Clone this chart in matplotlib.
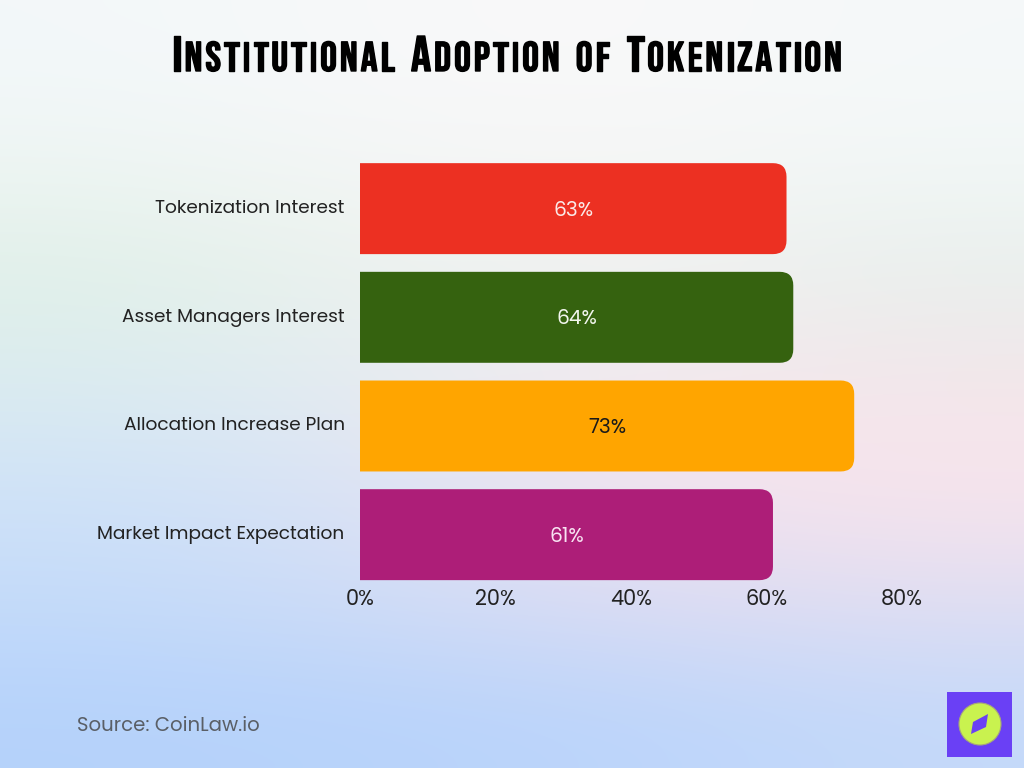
import numpy as np
import matplotlib
matplotlib.use("Agg")
import matplotlib.pyplot as plt
import matplotlib.patheffects as pe
from matplotlib.colors import to_rgb
from matplotlib.patches import PathPatch, Rectangle, Circle, Polygon
from matplotlib.path import Path
from matplotlib.transforms import ScaledTranslation

categories = ["Tokenization Interest", "Asset Managers Interest",
              "Allocation Increase Plan", "Market Impact Expectation"]
values = [63, 64, 73, 61]
bar_colors = ["#ec3022", "#35620f", "#ffa500", "#ad1e78"]
label_colors = ["#fbe9e7", "#f2f6ee", "#1a1a1a", "#f8e3f2"]
ticks = [0, 20, 40, 60, 80]
title_words = ["Institutional", "Adoption", "of", "Tokenization"]
source_text = "Source: CoinLaw.io"

FONT = "Poppins"
TITLE_FONT = "Bebas Neue"
W, H = 1024, 768

fig = plt.figure(figsize=(W / 100, H / 100), dpi=100)

# background wash, coarse colour grid blown up with smoothing
bg = fig.add_axes([0, 0, 1, 1])
wash = [
    ["#f3f8fa", "#f8f9fa", "#f9f9f9", "#f5f9fa"],
    ["#eef5f3", "#f5f6f6", "#f6f6f6", "#f2f7f6"],
    ["#e0f0e8", "#ecf2ee", "#f0f2f0", "#e8efec"],
    ["#dbecf0", "#e6ecf2", "#f5e9ee", "#f3e6ea"],
    ["#cfe2f8", "#dde3f4", "#f3e2ef", "#f8e4ec"],
    ["#c4dbfa", "#cfdcf7", "#dcdcf3", "#e0def2"],
    ["#b5d2fb", "#b8d3fb", "#bcd5fb", "#c4d9fa"],
]
rgb = np.array([[to_rgb(c) for c in row] for row in wash])
bg.imshow(rgb, extent=(0, W, H, 0), aspect="auto", interpolation="bicubic", zorder=0)
bg.set_xlim(0, W)
bg.set_ylim(H, 0)
bg.axis("off")

# title in small caps, set one letter at a time for the tracking
renderer = fig.canvas.get_renderer()
BIG, SMALL = 36, 30
TRACK = 3.05
SPACE = 13
x = 172
for n, word in enumerate(title_words):
    for k, ch in enumerate(word):
        size = BIG if k == 0 and word != "of" else SMALL
        t = bg.text(x, 71, ch.upper(), fontsize=size, family=TITLE_FONT, color="black",
                    ha="left", va="baseline")
        t.set_path_effects([pe.withStroke(linewidth=1.0, foreground="black")])
        x = t.get_window_extent(renderer).x1 + TRACK
    x += SPACE

# chart
ax = fig.add_axes([360 / W, 1 - 589 / H, (901.6 - 360) / W, (589 - 154.3) / H])
ax.patch.set_alpha(0)
ax.set_xlim(0, 80)
ax.set_ylim(3.5, -0.5)
for s in ax.spines.values():
    s.set_visible(False)

bar_h = 0.837
rx = 2.0
ry = 0.125
for i, (v, c) in enumerate(zip(values, bar_colors)):
    top, bot = i - bar_h / 2, i + bar_h / 2
    verts = [(0, top), (v - rx, top), (v, top), (v, top + ry), (v, bot - ry),
             (v, bot), (v - rx, bot), (0, bot), (0, top)]
    codes = [Path.MOVETO, Path.LINETO, Path.CURVE3, Path.CURVE3, Path.LINETO,
             Path.CURVE3, Path.CURVE3, Path.LINETO, Path.CLOSEPOLY]
    ax.add_patch(PathPatch(Path(verts, codes), facecolor=c, edgecolor="none"))
    ax.text(v / 2, i + 0.02, f"{v}%", ha="center", va="center",
            color=label_colors[i], fontsize=14.5, family=FONT)

ax.set_yticks(range(len(categories)))
ax.set_yticklabels(categories, family=FONT, fontsize=13.4, color="#222222")
ax.set_xticks(ticks)
ax.set_xticklabels([f"{t}%" for t in ticks], family=FONT, fontsize=15, color="#222222")
ax.tick_params(axis="both", length=0)
ax.tick_params(axis="y", pad=11)
ax.tick_params(axis="x", pad=0)

# category labels sit a little above the bar centres
nudge = ScaledTranslation(0, 2 / 100, fig.dpi_scale_trans)
for lab in ax.get_yticklabels():
    lab.set_transform(lab.get_transform() + nudge)

bg.text(77, 726, source_text, fontsize=14.2, family=FONT, color="#5a5f66",
        ha="left", va="center")

# compass badge, bottom right
bg.add_patch(Rectangle((947, 692), 65, 65, facecolor="#6a40f5", edgecolor="none", zorder=3))
bg.add_patch(Circle((980, 724), 21, facecolor="#c9f24f", edgecolor="#a7a878", lw=0.8, zorder=4))
bg.add_patch(Polygon([(988, 714), (973, 722), (971, 734), (986, 727)],
                     closed=True, facecolor="#6a40f5", edgecolor="none", zorder=5))

fig.savefig("out.png", dpi=100)
